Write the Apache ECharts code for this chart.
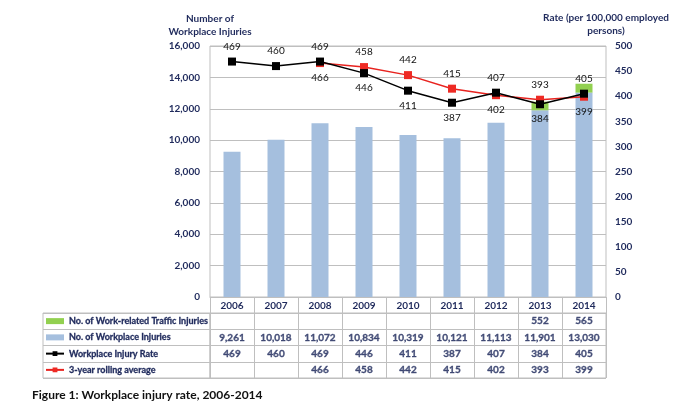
<!DOCTYPE html>
<html><head><meta charset="utf-8">
<script src="https://cdn.jsdelivr.net/npm/echarts@6/dist/echarts.min.js"></script>
<style>html,body{margin:0;padding:0;background:#fff}#c{width:690px;height:417px}</style>
</head><body><div id="c"></div>
<script>
// ---- data ----
var years = ['2006','2007','2008','2009','2010','2011','2012','2013','2014'];
var trafficInjuries = [null,null,null,null,null,null,null,552,565];
var workplaceInjuries = [9261,10018,11072,10834,10319,10121,11113,11901,13030];
var injuryRate = [469,460,469,446,411,387,407,384,405];
var rollingAvg = [null,null,466,458,442,415,402,393,399];
var seriesNames = ['No. of Work-related Traffic Injuries','No. of Workplace Injuries','Workplace Injury Rate','3-year rolling average'];
var leftTicks = {min:0,max:16000,interval:2000};
var rightTicks = {min:0,max:500,interval:50};

// ---- styles ----
var navy = '#1F2A5C', gridGray = '#BFBFBF';
var FONT = 'Lato';
var FS = 10;
var ratePos = ['top','top','top','bottom','bottom','bottom','top','bottom','top'];
var rollPos = [null,null,'bottom','top','top','top','bottom','top','bottom'];

function fmt(v){ return v==null?'':v.toLocaleString('en-US'); }
function tableSeries(rowIdx, arr){
  var d=[];
  arr.forEach(function(v,i){ if(v!=null) d.push([i,rowIdx,v]); });
  return {type:'scatter', name:'_t'+rowIdx, xAxisIndex:1, yAxisIndex:2, symbolSize:2, data:d, silent:true,
    itemStyle:{color:'rgba(0,0,0,0)'},
    label:{show:true, position:'inside', formatter:function(p){return fmt(p.value[2]);},
      color:navy, fontFamily:FONT, fontWeight:700, fontSize:FS, textBorderColor:navy, textBorderWidth:0.35}};
}

var chart = echarts.init(document.getElementById('c'));
chart.setOption({
  animation:false,
  textStyle:{fontFamily:FONT},
  title:{text:'Figure 1: Workplace injury rate, 2006-2014', left:27, top:384,
    textStyle:{fontSize:12, fontWeight:'bold', color:'#111', fontFamily:FONT}},
  legend:{orient:'vertical', left:45, top:313, padding:0, itemGap:0, itemWidth:18, itemHeight:6,
    textStyle:{color:navy, fontWeight:700, fontSize:9, lineHeight:16.25, fontFamily:FONT,
      textBorderColor:navy, textBorderWidth:0.3},
    data:[{name:seriesNames[0], icon:'rect'},{name:seriesNames[1], icon:'rect'},seriesNames[2],seriesNames[3]]},
  grid:[
    {left:210, right:84, top:46, height:251, show:true, borderColor:gridGray, borderWidth:1},
    {left:210, right:84, top:313, height:65, show:true, borderColor:gridGray, borderWidth:1},
    {left:43, width:167, top:313, height:65, show:true, borderColor:gridGray, borderWidth:1}
  ],
  xAxis:[
    {type:'category', gridIndex:0, data:years,
      axisLine:{lineStyle:{color:gridGray}},
      axisTick:{show:true, interval:0, length:16, lineStyle:{color:gridGray}},
      axisLabel:{color:navy, fontWeight:'bold', fontSize:FS, margin:4, fontFamily:FONT}},
    {type:'category', gridIndex:1, data:years, axisLine:{show:false}, axisTick:{show:false}, axisLabel:{show:false},
      splitLine:{show:true, interval:0, lineStyle:{color:gridGray}}},
    {type:'value', gridIndex:2, show:false}
  ],
  yAxis:[
    {type:'value', gridIndex:0, min:leftTicks.min, max:leftTicks.max, interval:leftTicks.interval,
      name:'Number of\nWorkplace Injuries', nameLocation:'end', nameGap:8,
      nameTextStyle:{color:navy, fontWeight:'bold', fontSize:FS, lineHeight:13, align:'center', fontFamily:FONT},
      axisLine:{show:false}, axisTick:{show:false},
      splitLine:{lineStyle:{color:gridGray}},
      axisLabel:{color:navy, fontWeight:'bold', fontSize:FS, margin:10, fontFamily:FONT, formatter:function(v){return fmt(v);}}},
    {type:'value', gridIndex:0, position:'right', min:rightTicks.min, max:rightTicks.max, interval:rightTicks.interval,
      name:'Rate (per 100,000 employed\npersons)', nameLocation:'end', nameGap:9,
      nameTextStyle:{color:navy, fontWeight:'bold', fontSize:FS, lineHeight:13, align:'center', fontFamily:FONT},
      axisLine:{show:false}, axisTick:{show:false}, splitLine:{show:false},
      axisLabel:{color:navy, fontWeight:'bold', fontSize:FS, margin:9, fontFamily:FONT}},
    {type:'category', gridIndex:1, data:seriesNames, inverse:true, axisLine:{show:false}, axisTick:{show:false}, axisLabel:{show:false},
      splitLine:{show:true, interval:0, lineStyle:{color:gridGray}}},
    {type:'category', gridIndex:2, data:seriesNames, inverse:true, axisLine:{show:false}, axisTick:{show:false}, axisLabel:{show:false},
      splitLine:{show:true, interval:0, lineStyle:{color:gridGray}}}
  ],
  series:[
    {name:seriesNames[1], type:'bar', stack:'inj', xAxisIndex:0, yAxisIndex:0, barWidth:17, data:workplaceInjuries,
      itemStyle:{color:'#A5BFDE'}},
    {name:seriesNames[0], type:'bar', stack:'inj', xAxisIndex:0, yAxisIndex:0, barWidth:17, data:trafficInjuries,
      itemStyle:{color:'#92D050'}},
    {name:seriesNames[2], type:'line', xAxisIndex:0, yAxisIndex:1, data:injuryRate.map(function(v,i){
        return {value:v, label:{position:ratePos[i]}};}),
      symbol:'rect', symbolSize:8, lineStyle:{color:'#000', width:1.5}, itemStyle:{color:'#000'},
      label:{show:true, color:'#111', fontSize:FS, distance:6, fontFamily:FONT}, z:5},
    {name:seriesNames[3], type:'line', xAxisIndex:0, yAxisIndex:1, data:rollingAvg.map(function(v,i){
        return {value:v, label:{position:rollPos[i]||'top'}};}),
      symbol:'rect', symbolSize:8, lineStyle:{color:'#E8231F', width:1.5}, itemStyle:{color:'#EE2A24'},
      label:{show:true, color:'#111', fontSize:FS, distance:6, fontFamily:FONT}, z:4},
    tableSeries(0, trafficInjuries),
    tableSeries(1, workplaceInjuries),
    tableSeries(2, injuryRate),
    tableSeries(3, rollingAvg)
  ]
});
</script></body></html>
